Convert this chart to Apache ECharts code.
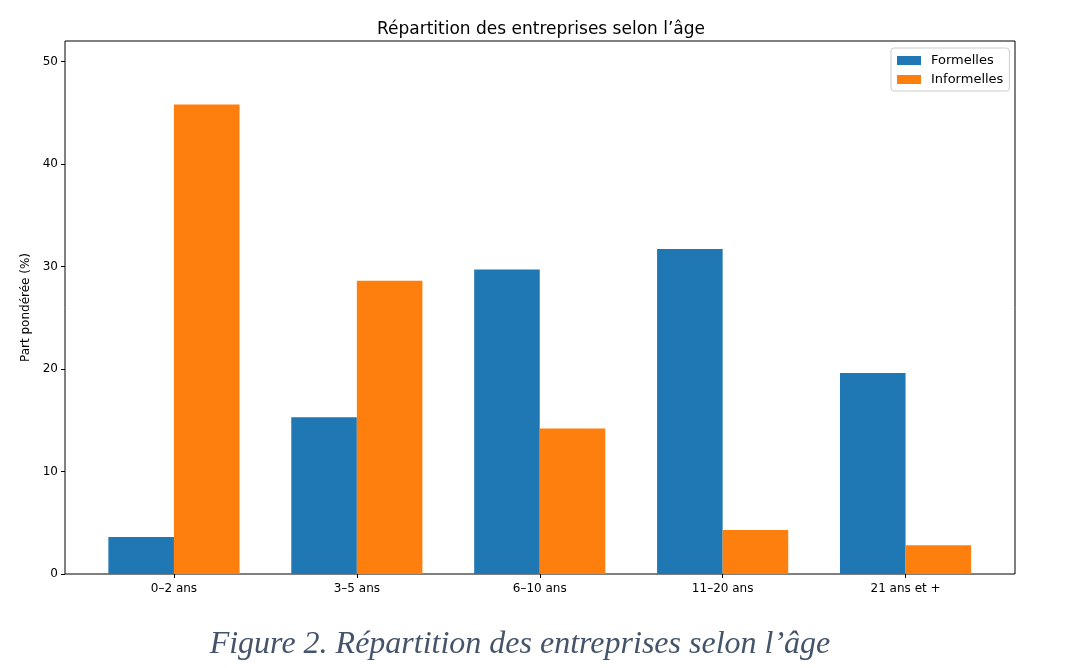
<!DOCTYPE html>
<html>
<head>
<meta charset="utf-8">
<script src="https://cdn.jsdelivr.net/npm/echarts@6/dist/echarts.min.js"></script>
<style>html,body{margin:0;padding:0;background:#fff}#c{width:1080px;height:668px}</style>
</head>
<body>
<div id="c"></div>
<script>
const categories = ['0–2 ans', '3–5 ans', '6–10 ans', '11–20 ans', '21 ans et +'];
const formelles = [3.6, 15.3, 29.7, 31.7, 19.6];
const informelles = [45.8, 28.6, 14.2, 4.3, 2.8];
const yTicks = [0, 10, 20, 30, 40, 50];
const seriesNames = ['Formelles', 'Informelles'];

const chart = echarts.init(document.getElementById('c'), null, {renderer: 'canvas'});
const font = 'DejaVu Sans';
chart.setOption({
  animation: false,
  backgroundColor: '#fff',
  textStyle: {fontFamily: font},
  title: [
    {text: "Répartition des entreprises selon l’âge", left: 536, textAlign: 'center', top: 16,
     textStyle: {fontFamily: font, fontSize: 17, fontWeight: 'normal', color: '#000'}},
    {text: "Figure 2. Répartition des entreprises selon l’âge", left: 515, textAlign: 'center', top: 624,
     textStyle: {fontFamily: 'Liberation Serif', fontStyle: 'italic', fontSize: 32, fontWeight: 'normal', color: '#44546A'}}
  ],
  legend: {
    data: seriesNames, orient: 'vertical', left: 891, top: 48,
    itemWidth: 24, itemHeight: 9, itemGap: 6,
    padding: [6, 6, 5, 6],
    borderColor: '#cccccc', borderWidth: 1, borderRadius: 3, backgroundColor: 'rgba(255,255,255,0.8)',
    textStyle: {fontFamily: font, fontSize: 13, color: '#000', padding: [0, 0, 0, 5]},
    icon: 'rect'
  },
  grid: [
    {left: 65, top: 41, width: 950, height: 533, show: true, borderColor: '#000', borderWidth: 1, backgroundColor: 'transparent'},
    {left: 82.5, top: 41, width: 914.5, height: 533}
  ],
  xAxis: [
    {gridIndex: 0, type: 'value', min: 0, max: 1, show: false},
    {gridIndex: 1, type: 'category', data: categories,
     axisLine: {show: false},
     axisTick: {show: true, alignWithLabel: true, length: 4, lineStyle: {color: '#000'}},
     axisLabel: {fontFamily: font, fontSize: 12, color: '#000', margin: 9}}
  ],
  yAxis: [
    {gridIndex: 0, type: 'value', min: 0, max: 1, show: false},
    {gridIndex: 1, type: 'value', min: 0, max: 52, offset: 17.5,
     name: 'Part pondérée (%)', nameLocation: 'middle', nameRotate: 90, nameGap: 32,
     nameTextStyle: {fontFamily: font, fontSize: 12, color: '#000'},
     axisLine: {show: false},
     splitLine: {show: false},
     axisTick: {show: true, length: 4, lineStyle: {color: '#000'}, customValues: yTicks},
     axisLabel: {fontFamily: font, fontSize: 12, color: '#000', margin: 7, customValues: yTicks}}
  ],
  series: [
    {name: seriesNames[0], type: 'bar', xAxisIndex: 1, yAxisIndex: 1, data: formelles,
     itemStyle: {color: '#1f77b4'}, barGap: '0%', barCategoryGap: '28.3%'},
    {name: seriesNames[1], type: 'bar', xAxisIndex: 1, yAxisIndex: 1, data: informelles,
     itemStyle: {color: '#ff7f0e'}, barGap: '0%', barCategoryGap: '28.3%'}
  ]
});
</script>
</body>
</html>
